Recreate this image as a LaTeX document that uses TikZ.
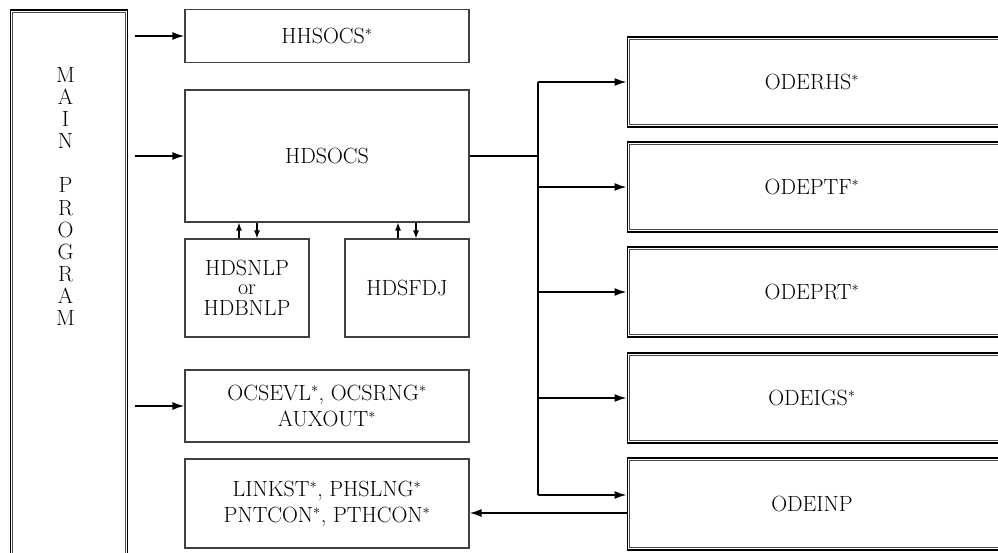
\documentclass[tikz,border=0pt]{standalone}
\usepackage{fontspec}
\usetikzlibrary{arrows.meta}
\begin{document}
\begin{tikzpicture}[x=1pt,y=-1pt,
  font=\fontsize{22}{26}\selectfont,
  box/.style={draw=black!75, line width=1.1pt, inner sep=0pt, align=center},
  dbox/.style={draw=black, line width=1.9pt, inner sep=0pt, align=center},
  innerline/.style={draw=black!70, line width=1.1pt},
  arr/.style={draw=black, line width=1.8pt, -{Latex[length=12pt,width=8pt]}},
  trunk/.style={draw=black, line width=1.8pt},
  link/.style={draw=black, line width=1.3pt, -{Latex[length=8pt,width=6pt]}}]
\useasboundingbox (0,0) rectangle (998,552);
\clip (0,0) rectangle (998,552);

% main program column (runs off the bottom of the page)
\node[dbox, minimum width=117pt, minimum height=590pt] (main) at (69,305) {};
\node[align=center, font=\fontsize{22}{22.1}\selectfont] (mptext) at (65.5,196.5)
  {M\\A\\I\\N\\\mbox{}\\P\\R\\O\\G\\R\\A\\M};

% routines called by the main program
\node[box, minimum width=284pt, minimum height=53pt] (hh) at (327,36) {HHSOCS$^*$};
\node[box, minimum width=284pt, minimum height=132pt] (hd) at (327,156) {HDSOCS};
\node[box, minimum width=124pt, minimum height=98pt] (nlp) at (247,288)
  {HDSNLP\\[-7pt]or\\[-5pt]HDBNLP};
\node[box, minimum width=124pt, minimum height=98pt] (fdj) at (407,288) {HDSFDJ};
\node[box, minimum width=284pt, minimum height=72pt] (ev) at (327,406)
  {OCSEVL$^*$, OCSRNG$^*$\\AUXOUT$^*$};
\node[box, minimum width=284pt, minimum height=89pt] (lk) at (327,503.5)
  {LINKST$^*$, PHSLNG$^*$\\PNTCON$^*$, PTHCON$^*$};

% ODE routines (cut off at the right edge)
\node[dbox, minimum width=379pt, minimum height=90pt,
  label={[xshift=-5pt]center:ODERHS$^*$}] (r1) at (817,82) {};
\node[dbox, minimum width=379pt, minimum height=90pt,
  label={[xshift=-5pt]center:ODEPTF$^*$}] (r2) at (817,187) {};
\node[dbox, minimum width=379pt, minimum height=90pt,
  label={[xshift=-5pt]center:ODEPRT$^*$}] (r3) at (817,292) {};
\node[dbox, minimum width=379pt, minimum height=90pt,
  label={[xshift=-5pt]center:ODEIGS$^*$}] (r4) at (817,398) {};
\node[dbox, minimum width=379pt, minimum height=92pt,
  label={[xshift=-5pt]center:ODEINP}] (r5) at (817,504) {};

% inner line of the double frames
\foreach \n in {main,r1,r2,r3,r4,r5}
  \draw[innerline] ([shift={(3.3pt,-3.3pt)}]\n.north west)
    rectangle ([shift={(-3.3pt,3.3pt)}]\n.south east);

% calls from the main program
\draw[arr, shorten <=6.5pt] (main.east |- hh.west) -- (hh.west);
\draw[arr, shorten <=6.5pt] (main.east |- hd.west) -- (hd.west);
\draw[arr, shorten <=6.5pt] (main.east |- ev.west) -- (ev.west);

% HDSOCS <-> helpers
\draw[link] ([xshift=-8pt]nlp.north) -- ([xshift=-8pt]nlp.north |- hd.south);
\draw[link] ([xshift=10pt]nlp.north |- hd.south) -- ([xshift=10pt]nlp.north);
\draw[link] ([xshift=-9pt]fdj.north) -- ([xshift=-9pt]fdj.north |- hd.south);
\draw[link] ([xshift=9pt]fdj.north |- hd.south) -- ([xshift=9pt]fdj.north);

% distribution trunk to the ODE routines
\coordinate (tr) at (538,156);
\coordinate (r5in) at ([yshift=9pt]r5.west);
\coordinate (r5out) at ([yshift=-9pt]r5.west);
\draw[trunk] (hd.east) -- (tr);
\draw[trunk] (tr |- r1.west) -- (tr |- r5in);
\draw[arr] (tr |- r1.west) -- (r1.west);
\draw[arr] (tr |- r2.west) -- (r2.west);
\draw[arr] (tr |- r3.west) -- (r3.west);
\draw[arr] (tr |- r4.west) -- (r4.west);
\draw[arr] (tr |- r5in) -- (r5in);
\draw[arr] (r5out) -- (lk.east |- r5out);
\end{tikzpicture}
\end{document}
